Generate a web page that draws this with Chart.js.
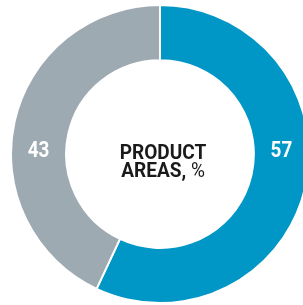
<!DOCTYPE html>
<html>
<head>
<meta charset="utf-8">
<script src="https://cdn.jsdelivr.net/npm/chart.js@4"></script>
<style>
  html, body { margin: 0; padding: 0; background: #fff; overflow: hidden; }
  #wrap { position: absolute; left: 10px; top: 4px; width: 300px; height: 300px; }
</style>
</head>
<body>
<div id="wrap"><canvas id="grafico" width="300" height="300"></canvas></div>
<script>
const categorias = ["Product area A", "Product area B"];
const valores = [57, 43];
const colores = ["#0096c5", "#9eaab1"];
const tituloLinea1 = "PRODUCT";
const tituloLinea2Negrita = "AREAS,";
const tituloLinea2Normal = " %";

const fuente = '"Liberation Sans Narrow", "Roboto", sans-serif';

// draws text squeezed horizontally (condensed look), left aligned at x
function textoEstrecho(ctx, texto, x, y, escala) {
  ctx.save();
  ctx.translate(x, y);
  ctx.scale(escala, 1);
  ctx.fillText(texto, 0, 0);
  ctx.restore();
}

// labels on the ring, on the horizontal line through the centre
const etiquetasPlugin = {
  id: "etiquetas",
  afterDatasetsDraw(chart) {
    const ctx = chart.ctx;
    const arcos = chart.getDatasetMeta(0).data;
    const escala = 0.86;
    ctx.save();
    ctx.fillStyle = "#fff";
    ctx.font = "bold 22px " + fuente;
    ctx.textAlign = "left";
    ctx.textBaseline = "alphabetic";
    arcos.forEach((arco, i) => {
      const radioMedio = (arco.innerRadius + arco.outerRadius) / 2;
      const lado = i === 0 ? 1 : -1;
      const texto = String(valores[i]);
      const ancho = ctx.measureText(texto).width * escala;
      textoEstrecho(ctx, texto, arco.x + lado * radioMedio - ancho / 2, arco.y + 3, escala);
    });
    ctx.restore();
  },
};

const tituloPlugin = {
  id: "titulo",
  afterDraw(chart) {
    const ctx = chart.ctx;
    const arco = chart.getDatasetMeta(0).data[0];
    const cx = arco.x + 3;
    const cy = arco.y;
    const escala = 0.93;
    ctx.save();
    ctx.fillStyle = "#1a1a1a";
    ctx.textBaseline = "alphabetic";
    ctx.textAlign = "left";

    ctx.font = "bold 20.5px " + fuente;
    const ancho1 = ctx.measureText(tituloLinea1).width * escala;
    textoEstrecho(ctx, tituloLinea1, cx - ancho1 / 2, cy + 5, escala);

    const anchoNegrita = ctx.measureText(tituloLinea2Negrita).width * escala;
    ctx.font = "20.5px " + fuente;
    const anchoNormal = ctx.measureText(tituloLinea2Normal).width * escala;
    const inicio = cx - (anchoNegrita + anchoNormal) / 2;
    ctx.font = "bold 20.5px " + fuente;
    textoEstrecho(ctx, tituloLinea2Negrita, inicio, cy + 23, escala);
    ctx.font = "20.5px " + fuente;
    textoEstrecho(ctx, tituloLinea2Normal, inicio + anchoNegrita, cy + 23, escala);
    ctx.restore();
  },
};

const config = {
  type: "doughnut",
  data: {
    labels: categorias,
    datasets: [
      {
        data: valores,
        backgroundColor: colores,
        borderColor: "#fff",
        borderWidth: 2,
      },
    ],
  },
  options: {
    responsive: false,
    animation: false,
    cutout: "63%",
    layout: { padding: 0 },
    plugins: {
      legend: { display: false },
      tooltip: { enabled: false },
    },
  },
  plugins: [etiquetasPlugin, tituloPlugin],
};

new Chart(document.getElementById("grafico"), config);
</script>
</body>
</html>
